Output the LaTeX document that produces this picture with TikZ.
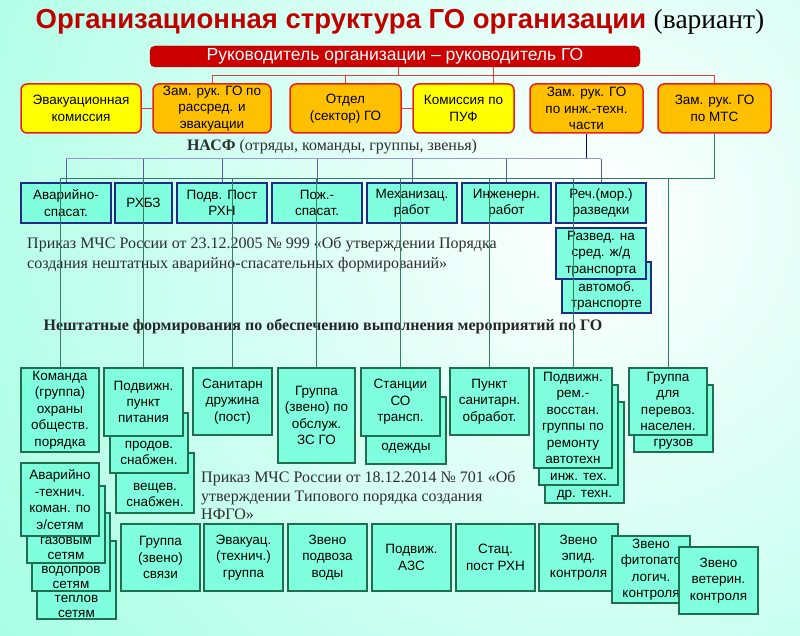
\documentclass[tikz,border=0pt]{standalone}
\usepackage{fontspec}
\setmainfont{Liberation Serif}
\setsansfont{Liberation Sans}
\usetikzlibrary{calc}
\definecolor{bgaqua}{RGB}{118,255,214}
\definecolor{boxaqua}{RGB}{128,255,222}
\definecolor{titlered}{RGB}{192,0,0}
\definecolor{chiefred}{RGB}{204,0,0}
\definecolor{topred}{RGB}{235,30,30}
\definecolor{yel}{RGB}{255,255,0}
\definecolor{org}{RGB}{255,192,0}
\definecolor{navyb}{RGB}{30,45,130}
\definecolor{dgreen}{RGB}{30,110,80}
\definecolor{grline}{RGB}{50,125,95}
\definecolor{lav}{RGB}{150,150,200}
\definecolor{vio}{RGB}{90,90,165}
\definecolor{darknavy}{RGB}{10,10,100}
\definecolor{redline}{RGB}{225,60,60}
\definecolor{txtgray}{RGB}{45,45,45}
\begin{document}
\begin{tikzpicture}[x=1pt,y=-1pt,
  boxfont/.style={font=\sffamily\fontsize{13.5}{16.4}\selectfont},
  topbox/.style={boxfont, draw=topred, line width=1.5pt, rounded corners=6pt, align=center, inner sep=1pt},
  ybox/.style={topbox, fill=yel},
  obox/.style={topbox, fill=org},
  nbox/.style={boxfont, draw=navyb, line width=1.8pt, fill=boxaqua, align=center, inner sep=1pt},
  gbox/.style={boxfont, draw=dgreen, line width=1.8pt, fill=boxaqua, align=center, inner sep=1pt},
  btext/.style={boxfont, align=center, inner sep=0pt},
  stext/.style={font=\sffamily\fontsize{13.5}{15}\selectfont, align=center, inner sep=0pt},
  redln/.style={draw=redline, line width=0.9pt},
  navln/.style={draw=darknavy, line width=1.3pt},
  lavln/.style={draw=lav, line width=1pt},
  violn/.style={draw=vio, line width=0.9pt},
  grln/.style={draw=grline, line width=1pt},
  serif/.style={font=\rmfamily\fontsize{16}{20}\selectfont, text=txtgray, align=left, inner sep=0pt}
]
\useasboundingbox (0,0) rectangle (800,636);
\begin{scope}
\clip (0,0) rectangle (800,636);
\shade[inner color=white, outer color=bgaqua] (600,220) circle [radius=1150pt];
\end{scope}

% title
\node[font=\sffamily\bfseries\fontsize{27.5}{32}\selectfont, text=titlered, inner sep=0pt] (title) at (400,22)
  {Организационная структура ГО организации\ {\rmfamily\mdseries\color{black}(вариант)}};

% chief
\node[draw=chiefred!80!black, fill=chiefred, rounded corners=5pt, minimum width=490, minimum height=21,
  inner sep=0pt, text=white, font=\sffamily\fontsize{17.5}{19}\selectfont] (chief) at (395,56.5)
  {Руководитель организации – руководитель ГО};

% top row
\node[ybox, minimum width=120, minimum height=49] (b1) at (81,108.5) {Эвакуационная\\комиссия};
\node[obox, minimum width=118, minimum height=49] (b2) at (212,108.5) {Зам. рук. ГО по\\рассред. и\\эвакуации};
\node[obox, minimum width=111, minimum height=49] (b3) at (345.5,108.5) {Отдел\\(сектор) ГО};
\node[ybox, minimum width=101, minimum height=49] (b4) at (463.5,108.5) {Комиссия по\\ПУФ};
\node[obox, minimum width=113, minimum height=49] (b5) at (586.5,108.5) {Зам. рук. ГО\\по инж.-техн.\\части};
\node[obox, minimum width=113, minimum height=49] (b6) at (714.5,108.5) {Зам. рук. ГО\\по МТС};

% red connectors
\draw[redln] ([xshift=3pt]chief.south) -- ++(0,8) coordinate (rc);
\coordinate (rl) at (b2.north |- rc);
\coordinate (rr) at (b6.north |- rc);
\draw[redln] (rl) -- (rr);
\draw[redln] (rl) -- (b2.north);
\draw[redln] (b3.north |- rc) -- (b3.north);
\draw[redln] (rr) -- (b6.north);
\coordinate (b4t) at ([xshift=30pt]b4.north);
\draw[redln] (b4t |- chief.south) -- (b4t);
\draw[redln] (b1.east) -- (b2.west);
\draw[redln] (b3.east) -- (b4.west);

% NASF label
\node[font=\rmfamily\fontsize{16}{20}\selectfont, text=txtgray, inner sep=0pt] (nasf) at (332,147)
  {\textbf{НАСФ} (отряды, команды, группы, звенья)};

% NASF boxes
\node[nbox, minimum width=90, minimum height=40] (n1) at (66,203) {Аварийно-\\спасат.};
\node[nbox, minimum width=57, minimum height=40] (n2) at (143.5,203) {РХБЗ};
\node[nbox, minimum width=90, minimum height=40] (n3) at (222,203) {Подв. Пост\\РХН};
\node[nbox, minimum width=90, minimum height=40] (n4) at (317,203) {Пож.-\\спасат.};
\node[nbox, minimum width=90, minimum height=40] (n5) at (412,203) {Механизац.\\работ};
\node[nbox, minimum width=89, minimum height=40] (n6) at (506.5,203) {Инженерн.\\работ};
\node[nbox, minimum width=90, minimum height=40] (n7) at (601,203) {Реч.(мор.)\\разведки};
\node[nbox, minimum width=89, minimum height=51] (rz2) at (606.5,287.5) {};
\node[btext] (rz2t) at (606.5,296) {автомоб.\\транспорте};
\node[nbox, minimum width=90, minimum height=51] (rz1) at (601,253.5) {Развед. на\\сред. ж/д\\транспорта};

% NASF connectors
\draw[navln] (b5.south) -- ++(0,25) coordinate (pv);
\draw[lavln] (n1.north |- pv) -- (n7.north |- pv);
\foreach \n in {n1,n2,n3,n4,n5,n6,n7} \draw[violn] (\n.north |- pv) -- (\n.north);

% texts
\node[serif, anchor=west] (prik1) at (27,254)
  {Приказ МЧС России от 23.12.2005 № 999 «Об утверждении Порядка\\создания нештатных аварийно-спасательных формирований»};
\node[font=\rmfamily\bfseries\fontsize{16}{20}\selectfont, text=black!85, inner sep=0pt] (nesht) at (323,326)
  {Нештатные формирования по обеспечению выполнения мероприятий по ГО};
\node[serif, anchor=west, font=\rmfamily\fontsize{16}{18.5}\selectfont] (prik2) at (201,495.5)
  {Приказ МЧС России от 18.12.2014 № 701 «Об\\утверждении Типового порядка создания\\НФГО»};

% bottom formations
\node[gbox, minimum width=78, minimum height=84] (m1) at (60,410) {Команда\\(группа)\\охраны\\обществ.\\порядка};
\node[gbox, minimum width=78, minimum height=60] (m2c) at (155,483) {};
\node[btext] (m2ct) at (155,495) {вещев.\\снабжен.};
\node[gbox, minimum width=78, minimum height=60] (m2b) at (149,443) {};
\node[btext] (m2bt) at (149,453) {продов.\\снабжен.};
\node[gbox, minimum width=79, minimum height=68] (m2) at (143.5,402) {Подвижн.\\пункт\\питания};
\node[gbox, minimum width=79, minimum height=67] (m3) at (232.5,401.5) {Санитарн\\дружина\\(пост)};
\node[gbox, minimum width=77, minimum height=95] (m4) at (316.5,415.5) {Группа\\(звено) по\\обслуж.\\ЗС ГО};
\node[gbox, minimum width=80, minimum height=67] (m5b) at (406,430.5) {};
\node[btext] (m5bt) at (406,448) {одежды};
\node[gbox, minimum width=79, minimum height=68] (m5) at (400.5,402) {Станции\\СО\\трансп.};
\node[gbox, minimum width=79, minimum height=67] (m6) at (489.5,401.5) {Пункт\\санитарн.\\обработ.};
\node[gbox, minimum width=79, minimum height=101] (m7c) at (584.5,452.5) {};
\node[btext] (m7ct) at (584.5,495) {др. техн.};
\node[gbox, minimum width=79, minimum height=100] (m7b) at (578.5,435) {};
\node[btext] (m7bt) at (578.5,477) {инж. тех.};
\node[gbox, minimum width=78, minimum height=100] (m7) at (573,418) {Подвижн.\\рем.-\\восстан.\\группы по\\ремонту\\автотехн};
\node[gbox, minimum width=79, minimum height=67] (m8b) at (673.5,418.5) {};
\node[btext] (m8bt) at (673.5,444) {грузов};
\node[gbox, minimum width=78, minimum height=67] (m8) at (668,401.5) {Группа\\для\\перевоз.\\населен.};

% green connectors
\draw[grln] (b6.south) -- ++(0,45) coordinate (gv);
\draw[grln] (gv) -- (m1.north |- gv);
\foreach \m in {m1,m2,m3,m4,m5,m6,m7,m8} \draw[grln] (\m.north |- gv) -- (\m.north);

% left lower stack
\node[gbox, minimum width=79, minimum height=78] (a4) at (76.5,580) {};
\node[stext] (a4t) at (76.5,606) {теплов\\сетям};
\node[gbox, minimum width=78, minimum height=78] (a3) at (71,552) {};
\node[stext] (a3t) at (71,577) {водопров\\сетям};
\node[gbox, minimum width=78, minimum height=77] (a2) at (66,524.5) {};
\node[stext] (a2t) at (66,548) {газовым\\сетям};
\node[gbox, minimum width=78, minimum height=73] (a1) at (60,499.5) {Аварийно\\-технич.\\коман. по\\э/сетям};

% bottom row
\node[gbox, minimum width=79, minimum height=67] (c1) at (160.5,557.5) {Группа\\(звено)\\связи};
\node[gbox, minimum width=79, minimum height=67] (c2) at (243.5,557.5) {Эвакуац.\\(технич.)\\группа};
\node[gbox, minimum width=79, minimum height=67] (c3) at (327.5,557.5) {Звено\\подвоза\\воды};
\node[gbox, minimum width=79, minimum height=67] (c4) at (411.5,557.5) {Подвиж.\\АЗС};
\node[gbox, minimum width=79, minimum height=67] (c5) at (495.5,557.5) {Стац.\\пост РХН};
\node[gbox, minimum width=79, minimum height=67] (c6) at (578.5,557.5) {Звено\\эпид.\\контроля};
\node[gbox, minimum width=78, minimum height=67] (c7) at (651,569.5) {Звено\\фитопато\\логич.\\контроля};
\node[gbox, minimum width=79, minimum height=67] (c8) at (718.5,580.5) {Звено\\ветерин.\\контроля};
\end{tikzpicture}
\end{document}
